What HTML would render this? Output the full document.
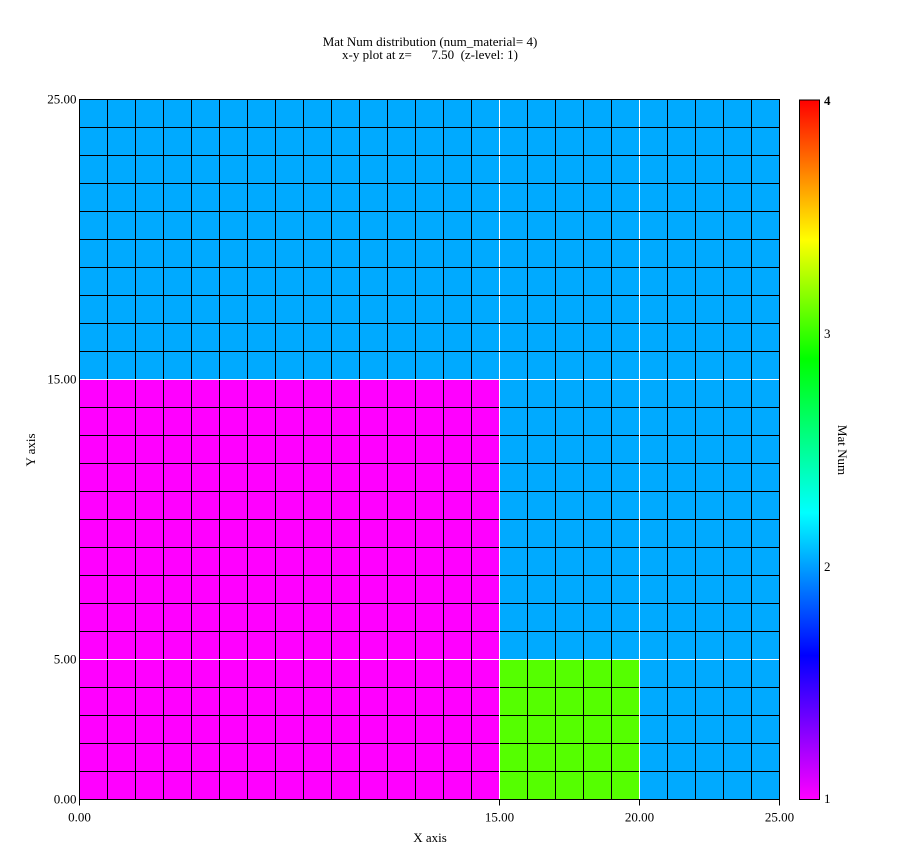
<!DOCTYPE html>
<html><head><meta charset="utf-8"><style>
html,body{margin:0;padding:0;background:#fff;}
svg text{font-family:"Liberation Serif",serif;font-size:13px;fill:#000;white-space:pre;}
</style></head><body>
<svg id="chart" width="900" height="850" viewBox="0 0 900 850" xmlns="http://www.w3.org/2000/svg">
<defs>
<linearGradient id="cb" x1="0" y1="1" x2="0" y2="0">
<stop offset="0" stop-color="#ff00ff"/>
<stop offset="0.206" stop-color="#0000ff"/>
<stop offset="0.41" stop-color="#00ffff"/>
<stop offset="0.63" stop-color="#00ff00"/>
<stop offset="0.80" stop-color="#ffff00"/>
<stop offset="1" stop-color="#ff0000"/>
</linearGradient>
</defs>
<text x="430" y="46" text-anchor="middle">Mat Num distribution (num_material= 4)</text>
<text x="430" y="59" text-anchor="middle">x-y plot at z=      7.50  (z-level: 1)</text>
<g id="cells"></g>
<g id="grid"></g>
<g id="axes"></g>
<rect x="799.5" y="100" width="20" height="699.5" fill="url(#cb)" stroke="#000" stroke-width="1"/>
<text x="824" y="105" font-weight="bold">4</text>
<text x="824" y="338">3</text>
<text x="824" y="571">2</text>
<text x="824" y="803">1</text>
<text x="0" y="0" transform="translate(838,450) rotate(90)" text-anchor="middle">Mat Num</text>
<text x="430" y="842" text-anchor="middle">X axis</text>
<text x="0" y="0" transform="translate(35,450) rotate(-90)" text-anchor="middle">Y axis</text>
</svg>
<script>
const NS="http://www.w3.org/2000/svg";
// data: material regions [x0,x1,y0,y1,material]; default material 2
const regionX0=[0,15];
const regionX1=[15,20];
const regionY0=[0,0];
const regionY1=[15,5];
const regionMat=[1,3];
const defaultMat=2;
const nCells=25;
const xTicks=[0,15,20,25];
const yTicks=[0,5,15,25];
const xTickLabels=["0.00","15.00","20.00","25.00"];
const yTickLabels=["0.00","5.00","15.00","25.00"];
const matColors={1:"#ff00ff",2:"#00aaff",3:"#55ff00",4:"#ff0000"};

const X0=79.5,X1=779.5,Y0=799.5,Y1=99.5;
const sx=v=>X0+(X1-X0)*v/25;
const sy=v=>Y0-(Y0-Y1)*v/25;
function mk(tag,attrs,parent){const e=document.createElementNS(NS,tag);for(const k in attrs)e.setAttribute(k,attrs[k]);parent.appendChild(e);return e;}
function matAt(x,y){for(let i=0;i<regionMat.length;i++){if(x>=regionX0[i]&&x<regionX1[i]&&y>=regionY0[i]&&y<regionY1[i])return regionMat[i];}return defaultMat;}
const cells=document.getElementById('cells');
for(let i=0;i<nCells;i++)for(let j=0;j<nCells;j++){
  const m=matAt(i+0.5,j+0.5);
  const r=mk('rect',{x:sx(i),y:sy(j+1),width:sx(i+1)-sx(i),height:sy(j)-sy(j+1),fill:matColors[m]},cells);
  
  
}
const grid=document.getElementById('grid');
for(let k=0;k<=nCells;k++){
  const white=(xTicks.includes(k)&&k>0&&k<25);
  const l=mk('line',{x1:sx(k),x2:sx(k),y1:Y1,y2:Y0,stroke:white?"#fff":"#000","stroke-width":1},grid);
  
  
  const whiteY=(yTicks.includes(k)&&k>0&&k<25);
  const h=mk('line',{x1:X0,x2:X1,y1:sy(k),y2:sy(k),stroke:whiteY?"#fff":"#000","stroke-width":1},grid);
  
  
}
const axes=document.getElementById('axes');
const fr=mk('rect',{x:X0,y:Y1,width:X1-X0,height:Y0-Y1,fill:"none",stroke:"#000","stroke-width":1},axes);


xTicks.forEach((v,i)=>{
  mk('line',{x1:sx(v),x2:sx(v),y1:Y0,y2:Y0+6,stroke:"#000"},axes);
  const t=mk('text',{x:sx(v),y:Y0+22,"text-anchor":"middle"},axes);
  t.textContent=xTickLabels[i];
  
  
});
yTicks.forEach((v,i)=>{
  const t=mk('text',{x:X0-3,y:sy(v)+4,"text-anchor":"end"},axes);
  t.textContent=yTickLabels[i];
  
  
});
</script>
</body></html>
